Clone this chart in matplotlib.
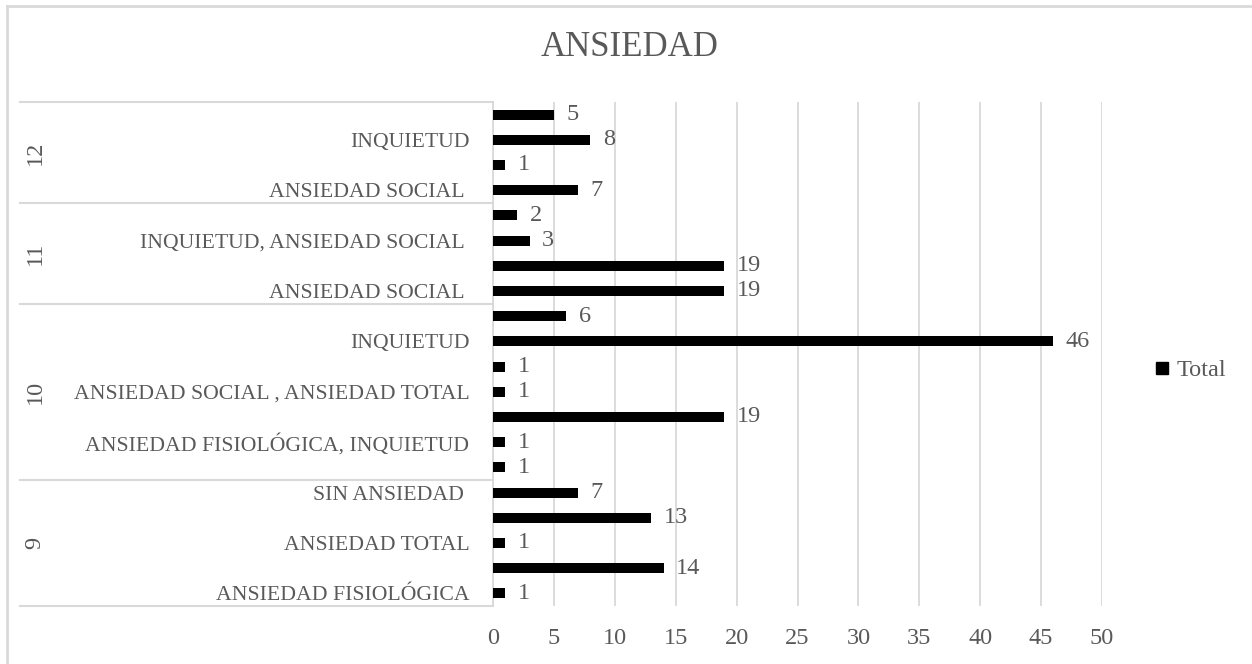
import matplotlib.pyplot as plt
from matplotlib.lines import Line2D

# Data (bottom to top, as drawn)
group_names = ["9", "10", "11", "12"]
group_sizes = [5, 7, 4, 4]

categories = [
    "ANSIEDAD FISIOLÓGICA", "", "ANSIEDAD TOTAL", "", "SIN ANSIEDAD ",
    "", "ANSIEDAD FISIOLÓGICA, INQUIETUD", "", "ANSIEDAD SOCIAL , ANSIEDAD TOTAL", "", "INQUIETUD", "",
    "ANSIEDAD SOCIAL ", "", "INQUIETUD, ANSIEDAD SOCIAL ", "",
    "ANSIEDAD SOCIAL ", "", "INQUIETUD", "",
]
values = [1, 14, 1, 13, 7,
          1, 1, 19, 1, 1, 46, 6,
          19, 19, 3, 2,
          7, 1, 8, 5]

x_ticks = list(range(0, 55, 5))

text_color = "#595959"
grid_color = "#d9d9d9"
font = "Liberation Serif"

fig = plt.figure(figsize=(12.52, 6.64), dpi=100)
ax = fig.add_axes([493 / 1252, 1 - 606 / 664, 609 / 1252, 504 / 664])

pos = list(range(len(values)))
ax.barh(pos, values, height=0.4, color="black", zorder=3, label="Total")

for p, v in zip(pos, values):
    ax.annotate(str(v), (v, p), xytext=(9, 0), textcoords="offset points",
                ha="left", va="center", fontsize=17.5, color=text_color, family=font)

ax.set_xlim(0, 50)
ax.set_ylim(-0.5, len(values) - 0.5)
ax.set_xticks(x_ticks)
ax.set_xticklabels([str(t) for t in x_ticks], fontsize=17.5, color=text_color, family=font)
ax.set_yticks(pos)
ax.set_yticklabels(categories, fontsize=15.7, color=text_color, family=font)
ax.tick_params(axis="both", length=0)
ax.tick_params(axis="x", pad=16)
ax.tick_params(axis="y", pad=17)
ax.grid(axis="x", color=grid_color, linewidth=1.3, zorder=0)

for s in ["top", "right", "bottom"]:
    ax.spines[s].set_visible(False)
ax.spines["left"].set_color(grid_color)
ax.spines["left"].set_linewidth(1.3)

# group separators and group labels
trans = ax.get_yaxis_transform()
x_left = (20 - 493) / 609
edge = -0.5
ax.plot([x_left, 0], [edge, edge], color=grid_color, lw=1.5, transform=trans, clip_on=False)
for name, size in zip(group_names, group_sizes):
    mid = edge + size / 2
    edge += size
    ax.plot([x_left, 0], [edge, edge], color=grid_color, lw=1.5, transform=trans, clip_on=False)
    ax.text((35 - 493) / 609, mid, name, rotation=90, ha="center", va="center",
            fontsize=17.5, color=text_color, family=font, transform=trans)

fig.text(0.503, 1 - 48 / 664, "ANSIEDAD", ha="center", va="center",
         fontsize=25, color=text_color, family=font)

handle = Line2D([], [], marker="s", color="black", linestyle="", markersize=8)
fig.legend([handle], ["Total"], loc="center left", bbox_to_anchor=(1128 / 1252, 1 - 370 / 664),
           frameon=False, prop={"family": font, "size": 17.5}, labelcolor=text_color,
           handletextpad=0.1, handlelength=1.0)

# chart border (left and top visible)
fig.add_artist(Line2D([7 / 1252, 7 / 1252], [0, 1 - 6 / 664], color=grid_color, lw=2))
fig.add_artist(Line2D([7 / 1252, 1], [1 - 6 / 664, 1 - 6 / 664], color=grid_color, lw=2))

fig.savefig("out.png", dpi=100)
